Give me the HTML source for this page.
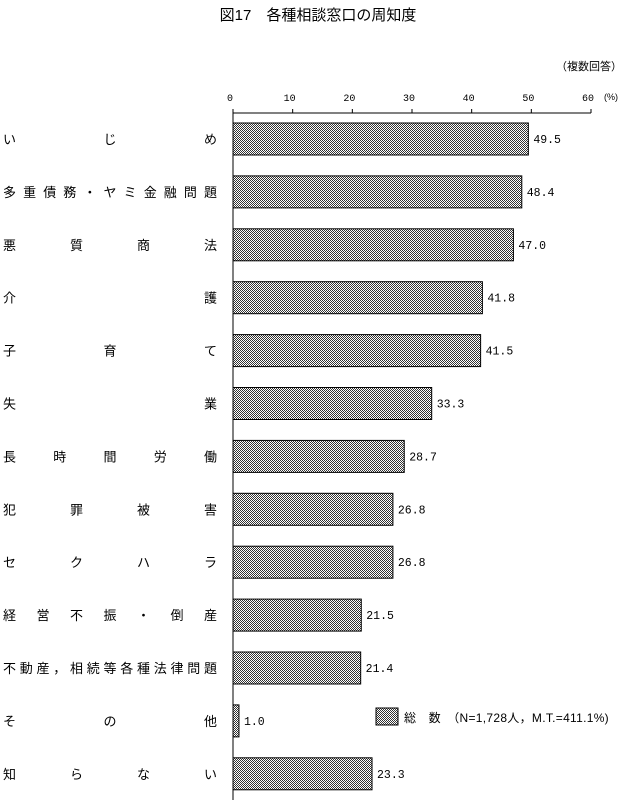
<!DOCTYPE html>
<html><head><meta charset="utf-8"><style>body{margin:0;background:#fff}svg{display:block}</style></head>
<body>
<svg width="630" height="800" style="font-family:'Liberation Sans','Noto Sans CJK JP',sans-serif">
<defs><pattern id="dots" width="2" height="2" patternUnits="userSpaceOnUse"><rect width="2" height="2" fill="#fff"/><rect width="1" height="1" fill="#333"/><rect x="1" y="1" width="1" height="1" fill="#333"/></pattern></defs>
<text x="318" y="20" text-anchor="middle" font-size="15">図17　各種相談窓口の周知度</text>
<text x="622" y="70" text-anchor="end" font-size="11">（複数回答）</text>
<text x="604" y="100" font-size="9">(%)</text>
<g id="axis"></g><g id="bars"></g>
<rect x="376" y="708" width="22" height="17" fill="url(#dots)" stroke="#000"/>
<text x="404" y="722" font-size="12" letter-spacing="0.3">総　数　（N=1,728人，M.T.=411.1%)</text>
</svg>
<script>
const categories=["いじめ","多重債務・ヤミ金融問題","悪質商法","介護","子育て","失業","長時間労働","犯罪被害","セクハラ","経営不振・倒産","不動産，相続等各種法律問題","その他","知らない"];
const values=[49.5,48.4,47.0,41.8,41.5,33.3,28.7,26.8,26.8,21.5,21.4,1.0,23.3];
const ticks=[0,10,20,30,40,50,60];
const NS="http://www.w3.org/2000/svg";
const x0=233,x1=591,yAxis=113,top0=123,step=52.9,bh=32;
const xs=v=>x0+(x1-x0)*v/60;
function mk(t,a,p){const e=document.createElementNS(NS,t);for(const k in a)e.setAttribute(k,a[k]);p.appendChild(e);return e;}
const ax=document.getElementById('axis'),bg=document.getElementById('bars');
const ln=mk('line',{x1:x0,y1:yAxis,x2:x1,y2:yAxis,stroke:'#000'},ax);


const yl=mk('line',{x1:x0,y1:yAxis,x2:x0,y2:800,stroke:'#000'},ax);


ticks.forEach(t=>{
 const tk=mk('line',{x1:xs(t),y1:yAxis,x2:xs(t),y2:yAxis-4,stroke:'#000'},ax);
 
 
 const tl=mk('text',{x:xs(t)-3,y:101,'font-size':10,'text-anchor':'middle','font-family':'Liberation Mono,monospace'},ax);
 tl.textContent=t;
 
 
});
categories.forEach((c,i)=>{
 const y=top0+i*step;
 const r=mk('rect',{x:x0,y:y,width:xs(values[i])-x0,height:bh,fill:'url(#dots)',stroke:'#000'},bg);
 
 
 const v=mk('text',{x:xs(values[i])+5,y:y+bh/2+4,'font-size':11.5,'font-family':'Liberation Mono,monospace'},bg);
 v.textContent=values[i].toFixed(1);
 
 
 const chars=[...c],n=chars.length,L=3,R=217;
 const g=mk('text',{y:y+bh/2+5,'font-size':13},bg);
 
 
 chars.forEach((ch,j)=>{const ts=mk('tspan',{x:n>1?L+(R-13-L)*j/(n-1):L},g);ts.textContent=ch;});
});
</script>
</body></html>
